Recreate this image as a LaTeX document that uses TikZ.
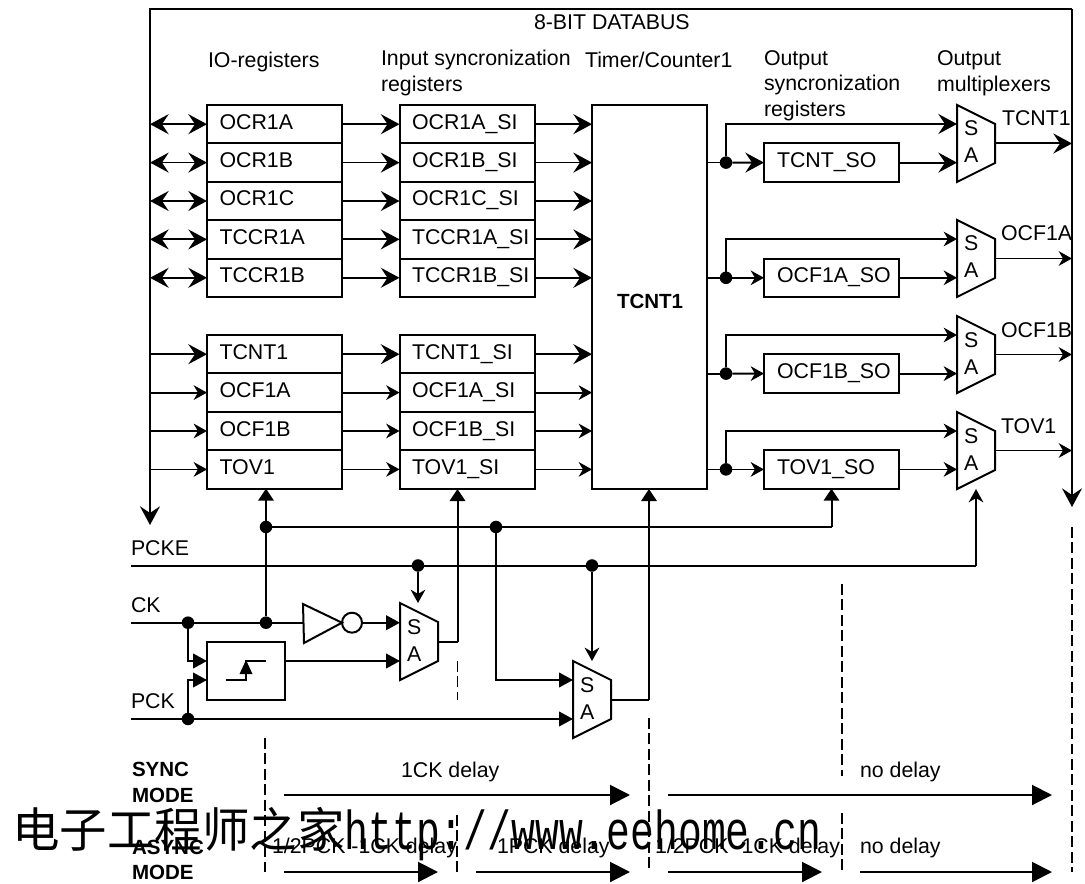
\documentclass[tikz,border=0pt]{standalone}
\usepackage{fontspec}
\setmainfont{Liberation Sans}
\newfontfamily\cjkwm{Noto Sans CJK SC}
\newfontfamily\monowm{Liberation Mono}
\usetikzlibrary{arrows.meta,calc}
\newcommand{\muxat}[3]{%
  \draw[wire] (#2,#3) -- (#2+38,#3+19) -- (#2+38,#3+58) -- (#2,#3+77) -- cycle;
  \coordinate (#1s) at (#2,#3+19);
  \coordinate (#1a) at (#2,#3+58);
  \coordinate (#1o) at (#2+38,#3+38.5);
  \coordinate (#1t) at (#2,#3);
  \node[txt] (#1sl) at (#2+7,#3+31) {S};
  \node[txt] (#1al) at (#2+7,#3+58) {A};}
\tikzset{
  wire/.style={line width=1.5pt,black},
  thinw/.style={line width=1.35pt,black},
  txt/.style={anchor=base west,inner sep=0pt,outer sep=0pt,font=\fontsize{16pt}{18pt}\selectfont},
  btxt/.style={txt,font=\fontsize{15.4pt}{18pt}\selectfont\bfseries},
  regbox/.style={draw,line width=1.5pt,rectangle,anchor=north west,inner xsep=0pt,inner ysep=0pt,outer sep=0pt,
    minimum width=101.25pt,minimum height=28.8pt,text width=101.25pt,align=left,
    text height=11.25pt,text depth=3.75pt,font=\fontsize{16pt}{18pt}\selectfont},
  big/.style={-{Stealth[length=14pt,width=15pt,inset=5pt]}},
  bigb/.style={{Stealth[length=14pt,width=15pt,inset=5pt]}-{Stealth[length=14pt,width=15pt,inset=5pt]}},
  med/.style={-{Stealth[length=10pt,width=11pt,inset=3.2pt]}},
  tri/.style={-{Triangle[length=10.5pt,width=11pt]}},
  ttri/.style={-{Triangle[length=9pt,width=11.5pt]}},
  ftri/.style={-{Triangle[length=15pt,width=15pt]}},
  dot/.style={circle,fill=black,inner sep=0pt,minimum size=9.4pt,outer sep=0pt},
  dsh/.style={line width=.85pt,dash pattern=on 8.2pt off 3.4pt},
}
\begin{document}
\begin{tikzpicture}[x=0.75pt,y=-0.75pt]
\useasboundingbox (0,0) rectangle (1085,884);
% titles
\node[txt] (tbus) at (534,30) {8-BIT DATABUS};
\node[txt] (tio) at (208,68) {IO-registers};
\node[txt] (tin1) at (381,66) {Input syncronization};
\node[txt] (tin2) at (381,92) {registers};
\node[txt] (ttc) at (585,68) {Timer/Counter1};
\node[txt] (tou1) at (764,66) {Output};
\node[txt] (tou2) at (764,91) {syncronization};
\node[txt] (tou3) at (764,117) {registers};
\node[txt] (tmx1) at (937,66) {Output};
\node[txt] (tmx2) at (937,92) {multiplexers};
% bus
\coordinate (busl) at (150,525);
\coordinate (busr) at (1072,507);
\coordinate (bust) at (150,9);
\coordinate (busrt) at (1072,9);
\draw[wire,big] (busrt) -- (bust) -- (busl);
\draw[wire,big] (busrt) -- (busr);
% IO registers
\foreach \n/\t/\y in {OCR1A/OCR1A/105,OCR1B/OCR1B/143.4,OCR1C/OCR1C/181.8,TCCR1A/TCCR1A/220.2,TCCR1B/TCCR1B/258.6,
                      TCNT1/TCNT1/335,OCF1A/OCF1A/373.4,OCF1B/OCF1B/411.8,TOV1/TOV1/450.2}{
  \node[regbox] (\n) at (207,\y) {\hspace*{9.4pt}\t};
  \node[regbox] (\n SI) at (399.5,\y) {\hspace*{9.4pt}\t\_SI};
}
% timer
\node[draw,line width=1.5pt,anchor=north west,minimum width=86.25pt,minimum height=288pt,inner sep=0pt,outer sep=0pt] (TC) at (592,105) {};
\node[btxt] (TClabel) at (617,309) {TCNT1};
% row arrows
\foreach \n in {OCR1A,OCR1B,OCR1C,TCCR1A,TCCR1B}{
  \draw[thinw,bigb] (bust |- \n.west) -- (\n.west);
  \draw[thinw,big] (\n.east) -- (\n SI.west);
}
\draw[wire,big] (bust |- TCNT1.west) -- (TCNT1.west);
\draw[wire,big] (TCNT1.east) -- (TCNT1SI.west);
\foreach \n in {OCF1A,OCF1B,TOV1}{
  \draw[thinw,med] (bust |- \n.west) -- (\n.west);
  \draw[thinw,med] (\n.east) -- (\n SI.west);
}
\foreach \n in {OCR1A,OCR1B,OCR1C,TCCR1A,TCCR1B,TCNT1}{
  \draw[thinw,big] (\n SI.east) -- (\n SI.east -| TC.west);
}
\foreach \n in {OCF1A,OCF1B,TOV1}{
  \draw[thinw,med] (\n SI.east) -- (\n SI.east -| TC.west);
}
% output registers
\foreach \n/\t/\y in {TCNTSO/TCNT\_SO/143.4,OCFASO/OCF1A\_SO/258.6,OCFBSO/OCF1B\_SO/354.4,TOVSO/TOV1\_SO/450.2}{
  \node[regbox] (\n) at (764,\y) {\hspace*{9.75pt}\t};
}
% muxes
\muxat{mA}{957}{105}
\muxat{mB}{957}{220}
\muxat{mC}{957}{316}
\muxat{mD}{957}{412}
% output wiring
\node[dot] (jA) at (726,162.6) {};
\node[dot] (jB) at (726,277.8) {};
\node[dot] (jC) at (726,373.6) {};
\node[dot] (jD) at (726,469.4) {};
\draw[thinw] (TC.east |- jA) -- (jA);
\draw[thinw] (TC.east |- jB) -- (jB);
\draw[thinw] (TC.east |- jC) -- (jC);
\draw[thinw] (TC.east |- jD) -- (jD);
\draw[wire,big] (jA) -- (TCNTSO.west);
\draw[wire,big] (jA) |- (mAs);
\draw[wire,big] (TCNTSO.east) -- (TCNTSO.east -| mAs);
\foreach \j/\r/\m in {jB/OCFASO/mB,jC/OCFBSO/mC,jD/TOVSO/mD}{
  \draw[thinw,med] (\j) -- (\r.west);
  \draw[wire,med] (\j) |- (\m s);
  \draw[thinw,med] (\r.east) -- (\r.east -| \m s);
}
% mux outputs
\draw[wire,big] (mAo) -- (mAo -| busr);
\foreach \m in {mB,mC,mD}{ \draw[thinw,med] (\m o) -- (\m o -| busr); }
\node[txt] (lA) at (1002,126) {TCNT1};
\node[txt] (lB) at (1001,241) {OCF1A};
\node[txt] (lC) at (1001,337) {OCF1B};
\node[txt] (lD) at (1001,433) {TOV1};
% lower labels
\node[txt] (lPCKE) at (131,555) {PCKE};
\node[txt] (lCK) at (131,612.7) {CK};
\node[txt] (lPCK) at (131,708) {PCK};
\coordinate (inE) at (131,565.5);
\coordinate (inC) at (131,622.7);
\coordinate (inP) at (131,719);
% junctions
\node[dot] (jCK1) at (188,622.7) {};
\node[dot] (jCK2) at (266,622.7) {};
\node[dot] (jTop) at (266,527) {};
\node[dot] (jTop2) at (496,527) {};
\node[dot] (jE1) at (418,565.5) {};
\node[dot] (jE2) at (592,565.5) {};
\node[dot] (jP) at (188,719) {};
% inverter
\coordinate (invin) at (303,622.7);
\draw[wire] (303,604) -- (342,622.7) -- (304,643) -- cycle;
\node[draw,circle,line width=1.5pt,minimum size=15pt,inner sep=0pt,outer sep=0pt] (invc) at (352,622.7) {};
% edge detector
\node[draw,line width=1.5pt,anchor=north west,minimum width=58.5pt,minimum height=43.5pt,inner sep=0pt,outer sep=0pt] (edge) at (207,642) {};
\draw[wire] (226,680) -- (246,680) -- (246,661) -- (266,661);
\fill (246,660) -- (252.5,674) -- (239.5,674) -- cycle;
% lower muxes
\muxat{mE}{400}{603}
\muxat{mF}{573}{661}
% lower wiring
\coordinate (edgeC) at (207,661);
\coordinate (edgeP) at (207,680);
\coordinate (mDb) at (976,489);
\draw[wire] (inC) -- (invin);
\draw[wire,tri] (jCK1) |- (edgeC);
\draw[wire,tri] (jP) |- (edgeP);
\draw[wire,tri] (invc.east) -- (invc.east -| mEs);
\draw[wire,tri] (edge.east |- mEa) -- (mEa);
\draw[wire,ttri] (jCK2) -- (TOV1.south -| jCK2);
\draw[wire] (jTop) -- (jTop -| TOVSO.south) coordinate (tc);
\draw[wire,ttri] (tc) -- (TOVSO.south);
\draw[wire] (inE) -- (inE -| mDb) coordinate (te);
\draw[wire,med] (te) -- (mDb);
\draw[wire,med] (jE1) -- (jE1 |- mEt);
\draw[wire,med] (jE2) -- (jE2 |- mFt);
\draw[wire] (inP) -- (jP);
\draw[wire,tri] (jP) -- (mFa);
\draw[wire,tri] (jTop2) |- (mFs);
\draw[wire] (mEo) -- ++(19.5,0) coordinate (re);
\draw[wire,ttri] (re) -- (re |- TC.south);
\draw[wire] (mFo) -- ++(38,0) coordinate (rf);
\draw[wire,ttri] (rf) -- (rf |- TC.south);
% dashed time marks
\draw[dsh] (457.5,661) -- (457.5,700);
\draw[dsh] (457,815) -- (457,873);
\draw[dsh] (265,738) -- (265,872);
\draw[dsh] (649,718) -- (649,870);
\draw[dsh] (842,584) -- (842,776);
\draw[dsh] (842,813) -- (842,872);
\draw[dsh] (1072,527) -- (1072,872);
% mode labels
\node[btxt] (s1) at (132,776) {SYNC};
\node[btxt] (s2) at (132,802) {MODE};
\node[btxt] (a1) at (132,854) {ASYNC};
\node[btxt] (a2) at (132,879) {MODE};
\node[txt] (d1) at (401,777) {1CK delay};
\node[txt] (d2) at (860,777) {no delay};
\node[txt] (d3) at (272,853) {1/2PCK -1CK delay};
\node[txt] (d4) at (497,853) {1PCK delay};
\node[txt] (d5) at (655,853) {1/2PCK -1CK delay};
\node[txt] (d6) at (860,853) {no delay};
% delay arrows
\foreach \a/\b/\c/\e in {sa/sb/284/630,sc/sd/668/1052}{
  \coordinate (\a) at (\c,795); \coordinate (\b) at (\e,795);
  \draw[wire,ftri] (\a) -- (\b);}
\foreach \a/\b/\c/\e in {aa/ab/284/438,ac/ad/476/630,ae/af/668/822,ag/ah/860/1052}{
  \coordinate (\a) at (\c,872); \coordinate (\b) at (\e,872);
  \draw[wire,ftri] (\a) -- (\b);}
% watermark
\node[anchor=base west,inner sep=0pt] (wm) at (12,849) {%
  \raisebox{1.5pt}{\cjkwm\fontsize{35.6pt}{38pt}\selectfont 电子工程师之家}%
  \scalebox{1}[1.38]{\monowm\fontsize{29.8pt}{32pt}\selectfont http://www.eehome.cn}};
\end{tikzpicture}
\end{document}
